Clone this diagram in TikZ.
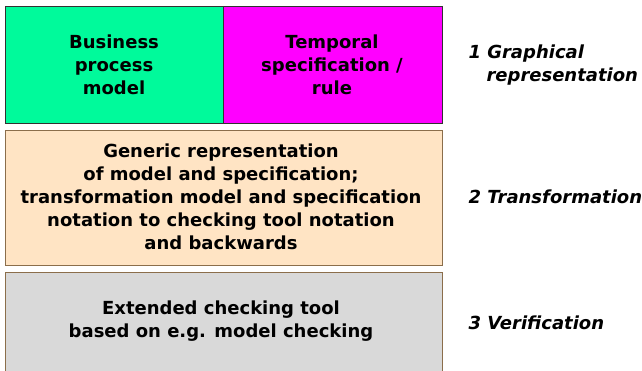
\documentclass[tikz,border=0pt]{standalone}
\usepackage{fontspec}
\setmainfont{DejaVu Sans}
\definecolor{bpmgreen}{RGB}{0,250,155}
\definecolor{specmagenta}{RGB}{255,0,255}
\definecolor{transbeige}{RGB}{255,228,196}
\definecolor{verifgray}{RGB}{217,217,217}
\definecolor{darkframe}{RGB}{50,50,50}
\definecolor{brownframe}{RGB}{139,110,75}
\tikzset{
  layerbox/.style={line width=0.9pt},
  boxtext/.style={align=center, font=\fontsize{18}{23}\selectfont\bfseries},
  layerlabel/.style={anchor=west, align=left, font=\fontsize{18}{23}\selectfont\bfseries\itshape}
}
\begin{document}
\begin{tikzpicture}[x=1pt,y=-1pt]
  \useasboundingbox (0,0) rectangle (642,370);
  % layer 1: graphical representation
  \draw[layerbox, fill=bpmgreen, draw=darkframe] (5,6) rectangle (223,123);
  \draw[layerbox, fill=specmagenta, draw=darkframe] (223,6) rectangle (442,123);
  \node[boxtext] (bpm) at (114,65) {Business\\process\\model};
  \node[boxtext] (spec) at (332,65) {Temporal\\specification /\\rule};
  % layer 2: transformation
  \draw[layerbox, fill=transbeige, draw=brownframe] (5,130) rectangle (442,265);
  \node[boxtext] (trans) at (221,197) {Generic representation\\of model and specification;\\transformation model and specification\\notation to checking tool notation\\and backwards};
  % layer 3: verification
  \draw[layerbox, fill=verifgray, draw=brownframe] (5,272) rectangle (442,375);
  \node[boxtext] (verif) at (221,321) {Extended checking tool\\based on e.g. model checking};
  % layer labels
  \node[layerlabel] (l1) at (465,65) {1 Graphical\\\hspace*{1.0em}representation};
  \node[layerlabel] (l2) at (465,197) {2 Transformation};
  \node[layerlabel] (l3) at (465,323) {3 Verification};
\end{tikzpicture}
\end{document}
